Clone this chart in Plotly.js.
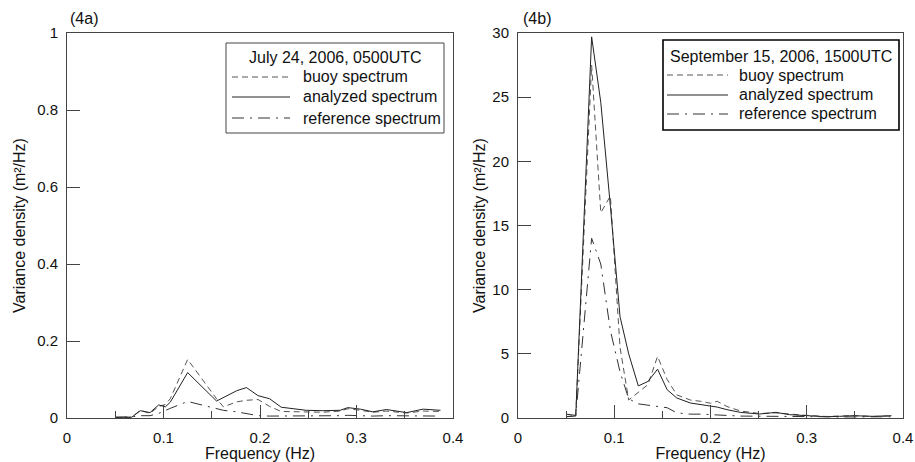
<!DOCTYPE html>
<html>
<head>
<meta charset="utf-8">
<script src="https://cdn.plot.ly/plotly-3.0.1.min.js"></script>
<style>html,body{margin:0;padding:0;background:#fff}#chart{width:915px;height:462px}</style>
</head>
<body>
<div id="chart"></div>
<script>
// ---- Data ----
const seriesNames = ["buoy spectrum", "analyzed spectrum", "reference spectrum"];
const panelLabels = ["(4a)", "(4b)"];
const legendTitles = ["July 24, 2006, 0500UTC", "September 15, 2006, 1500UTC"];
const xTitle = "Frequency (Hz)";
const yTitle = "Variance density (m\u00B2/Hz)";

// Panel (4a)
const freqA = [0.05, 0.067, 0.076, 0.086, 0.095, 0.102, 0.107, 0.125, 0.155, 0.162, 0.176, 0.186, 0.198, 0.21, 0.222, 0.248, 0.265, 0.283, 0.291, 0.304, 0.317, 0.331, 0.352, 0.369, 0.387];
const buoyA = [0.001, 0.002, 0.02, 0.012, 0.03, 0.035, 0.05, 0.152, 0.05, 0.029, 0.042, 0.046, 0.048, 0.03, 0.017, 0.016, 0.015, 0.018, 0.024, 0.02, 0.015, 0.018, 0.013, 0.018, 0.017];
const analyzedA = [0.002, 0.002, 0.019, 0.014, 0.034, 0.029, 0.041, 0.118, 0.044, 0.053, 0.071, 0.079, 0.058, 0.05, 0.028, 0.02, 0.019, 0.02, 0.027, 0.023, 0.016, 0.022, 0.014, 0.023, 0.02];
const referenceA = [0.002, 0.003, 0.006, 0.006, 0.012, 0.02, 0.025, 0.043, 0.024, 0.02, 0.016, 0.012, 0.006, 0.005, 0.005, 0.006, 0.005, 0.006, 0.007, 0.006, 0.005, 0.006, 0.005, 0.006, 0.005];

// Panel (4b)
const freqB = [0.05, 0.06, 0.0765, 0.086, 0.096, 0.106, 0.115, 0.125, 0.135, 0.145, 0.155, 0.165, 0.179, 0.19, 0.2, 0.207, 0.217, 0.231, 0.251, 0.268, 0.282, 0.3, 0.32, 0.334, 0.348, 0.369, 0.388];
const buoyB = [0.1, 0.2, 27.5, 16.0, 17.3, 5.5, 1.4, 2.0, 2.6, 4.8, 3.0, 1.8, 1.4, 1.3, 1.15, 1.3, 0.9, 0.55, 0.35, 0.4, 0.3, 0.2, 0.12, 0.15, 0.18, 0.12, 0.15];
const analyzedB = [0.3, 0.2, 29.7, 24.6, 16.5, 7.9, 5.0, 2.5, 2.85, 3.8, 2.2, 1.56, 1.17, 1.05, 0.95, 0.85, 0.65, 0.44, 0.31, 0.44, 0.26, 0.2, 0.1, 0.13, 0.18, 0.13, 0.18];
const referenceB = [0.1, 0.15, 14.0, 12.0, 6.8, 3.6, 1.5, 1.1, 1.0, 0.9, 0.8, 0.4, 0.3, 0.3, 0.25, 0.2, 0.2, 0.15, 0.15, 0.12, 0.1, 0.1, 0.1, 0.08, 0.1, 0.08, 0.1];

const xTicks = [0, 0.1, 0.2, 0.3, 0.4];
const yTicksA = [0, 0.2, 0.4, 0.6, 0.8, 1];
const yTicksB = [0, 5, 10, 15, 20, 25, 30];

// ---- Styles ----
const W = 915, H = 462;
const FONT = "Liberation Sans, Arial, sans-serif";
const styles = [
  {color: "#555", width: 1, dash: "6px,4px"},
  {color: "#222", width: 1, dash: "solid"},
  {color: "#333", width: 1, dash: "12px,6px,2px,6px"}
];
const px = v => v / W;
const py = v => 1 - v / H;

function mk(x, y, i, xa, ya) {
  return {x: x, y: y, type: "scatter", mode: "lines", name: seriesNames[i],
    xaxis: xa, yaxis: ya, showlegend: false,
    line: {color: styles[i].color, width: styles[i].width, dash: styles[i].dash}};
}
const traces = [
  mk(freqA, buoyA, 0, "x", "y"), mk(freqA, analyzedA, 1, "x", "y"), mk(freqA, referenceA, 2, "x", "y"),
  mk(freqB, buoyB, 0, "x2", "y2"), mk(freqB, analyzedB, 1, "x2", "y2"), mk(freqB, referenceB, 2, "x2", "y2")
];

const titleFont = {family: FONT, size: 16, color: "#111"};
const axisCommon = {
  showline: true, mirror: true, linecolor: "#444", linewidth: 1,
  showgrid: false, zeroline: false, ticks: "inside", ticklen: 13, tickcolor: "#444", tickwidth: 1,
  tickfont: {family: FONT, size: 15, color: "#111"}, fixedrange: true, automargin: false
};
const minorX = {dtick: 0.05, tick0: 0, ticks: "inside", ticklen: 7, tickcolor: "#444", showgrid: false};
const yDomain = [py(418), py(33)];

const layout = {
  width: W, height: H, margin: {l: 0, r: 0, t: 0, b: 0},
  paper_bgcolor: "#fff", plot_bgcolor: "#fff", showlegend: false,
  xaxis: Object.assign({}, axisCommon, {domain: [px(67), px(453)], range: [0, 0.4], tickvals: xTicks, ticklabelstandoff: 6,
    minor: minorX, anchor: "y", title: {text: xTitle, font: titleFont, standoff: 4}}),
  yaxis: Object.assign({}, axisCommon, {domain: yDomain, range: [0, 1], tickvals: yTicksA, ticklabelstandoff: 5, anchor: "x",
    title: {text: yTitle, font: titleFont, standoff: 7}}),
  xaxis2: Object.assign({}, axisCommon, {domain: [px(518), px(903)], range: [0, 0.4], tickvals: xTicks, ticklabelstandoff: 6,
    minor: minorX, anchor: "y2", title: {text: xTitle, font: titleFont, standoff: 4}}),
  yaxis2: Object.assign({}, axisCommon, {domain: yDomain, range: [0, 30], tickvals: yTicksB, ticklabelstandoff: 5, anchor: "x2",
    title: {text: yTitle, font: titleFont, standoff: 2}}),
  shapes: [], annotations: []
};

const txt = (text, x, y, opts) => Object.assign({text: text, xref: "paper", yref: "paper", x: px(x), y: py(y),
  showarrow: false, font: {family: FONT, size: 16, color: "#111"}, xanchor: "center", yanchor: "middle"}, opts || {});

// Panel labels
layout.annotations.push(txt(panelLabels[0], 68, 19, {xanchor: "left"}));
layout.annotations.push(txt(panelLabels[1], 521, 19, {xanchor: "left"}));

// Legends (one per panel)
const legends = [
  {box: [226, 43, 444, 133], border: "#444", bw: 1, titleY: 58, rows: [77, 97, 118], sx: [232, 290], tx: 301},
  {box: [663, 40, 899, 130], border: "#000", bw: 1.6, titleY: 57, rows: [75, 95, 114], sx: [667, 728], tx: 737}
];
legends.forEach((L, k) => {
  layout.shapes.push({type: "rect", xref: "paper", yref: "paper", x0: px(L.box[0]), y0: py(L.box[1]), x1: px(L.box[2]), y1: py(L.box[3]),
    line: {color: L.border, width: L.bw}, fillcolor: "#fff", layer: "above"});
  layout.annotations.push(txt(legendTitles[k], (L.box[0] + L.box[2]) / 2, L.titleY));
  seriesNames.forEach((nm, i) => {
    layout.shapes.push({type: "line", xref: "paper", yref: "paper", x0: px(L.sx[0]), x1: px(L.sx[1]), y0: py(L.rows[i]), y1: py(L.rows[i]),
      line: {color: styles[i].color, width: styles[i].width, dash: styles[i].dash}, layer: "above"});
    layout.annotations.push(txt(nm, L.tx, L.rows[i], {xanchor: "left"}));
  });
});

Plotly.newPlot("chart", traces, layout, {staticPlot: true, displayModeBar: false});
</script>
</body>
</html>
